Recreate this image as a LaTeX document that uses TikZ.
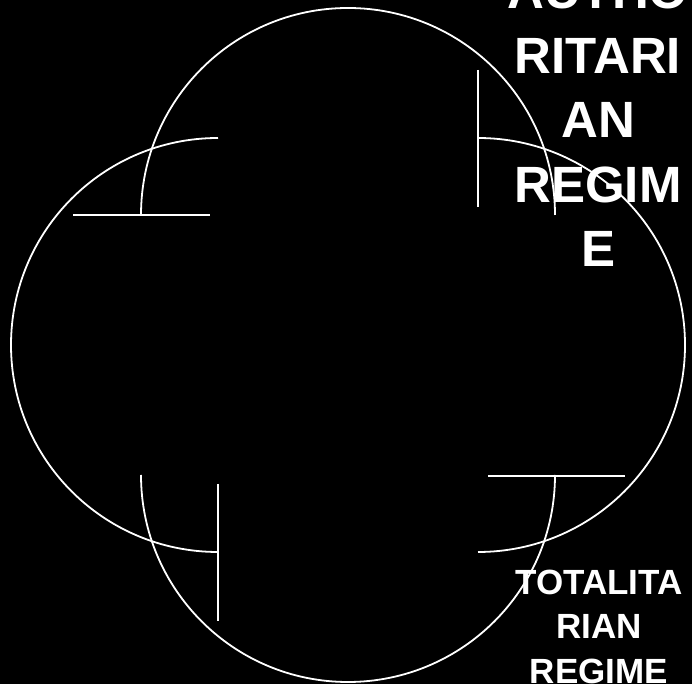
\documentclass[tikz,border=0pt]{standalone}
\usepackage{fontspec}
\setmainfont{Liberation Sans}
\begin{document}
\begin{tikzpicture}[x=1pt,y=1pt,
  arcline/.style={white,line width=1.8pt},
  capline/.style={white,line width=2.2pt},
  bigtitle/.style={text=white,font=\bfseries\fontsize{51}{64.5}\selectfont,align=center,inner sep=0pt,anchor=base},
  smalltitle/.style={text=white,font=\bfseries\fontsize{35}{44}\selectfont,align=center,inner sep=0pt,anchor=base}]
\fill[black] (0,0) rectangle (692,684);
\useasboundingbox (0,0) rectangle (692,684);
% semicircles
\draw[arcline] (141,469) arc[start angle=180,end angle=0,radius=207];
\draw[arcline] (478,546) arc[start angle=90,end angle=-90,radius=207];
\draw[arcline] (555,209) arc[start angle=0,end angle=-180,radius=207];
\draw[arcline] (218,132) arc[start angle=270,end angle=90,radius=207];
% caps
\draw[capline] (73,469) -- (210,469);
\draw[capline] (478,614) -- (478,477);
\draw[capline] (488,208) -- (625,208);
\draw[capline] (218,200) -- (218,63);
% labels
\node[bigtitle] (auth) at (598,417) {AUTHO\\RITARI\\AN\\REGIM\\E};
\node[smalltitle] (tota) at (599,1) {TOTALITA\\RIAN\\REGIME};
\end{tikzpicture}
\end{document}
